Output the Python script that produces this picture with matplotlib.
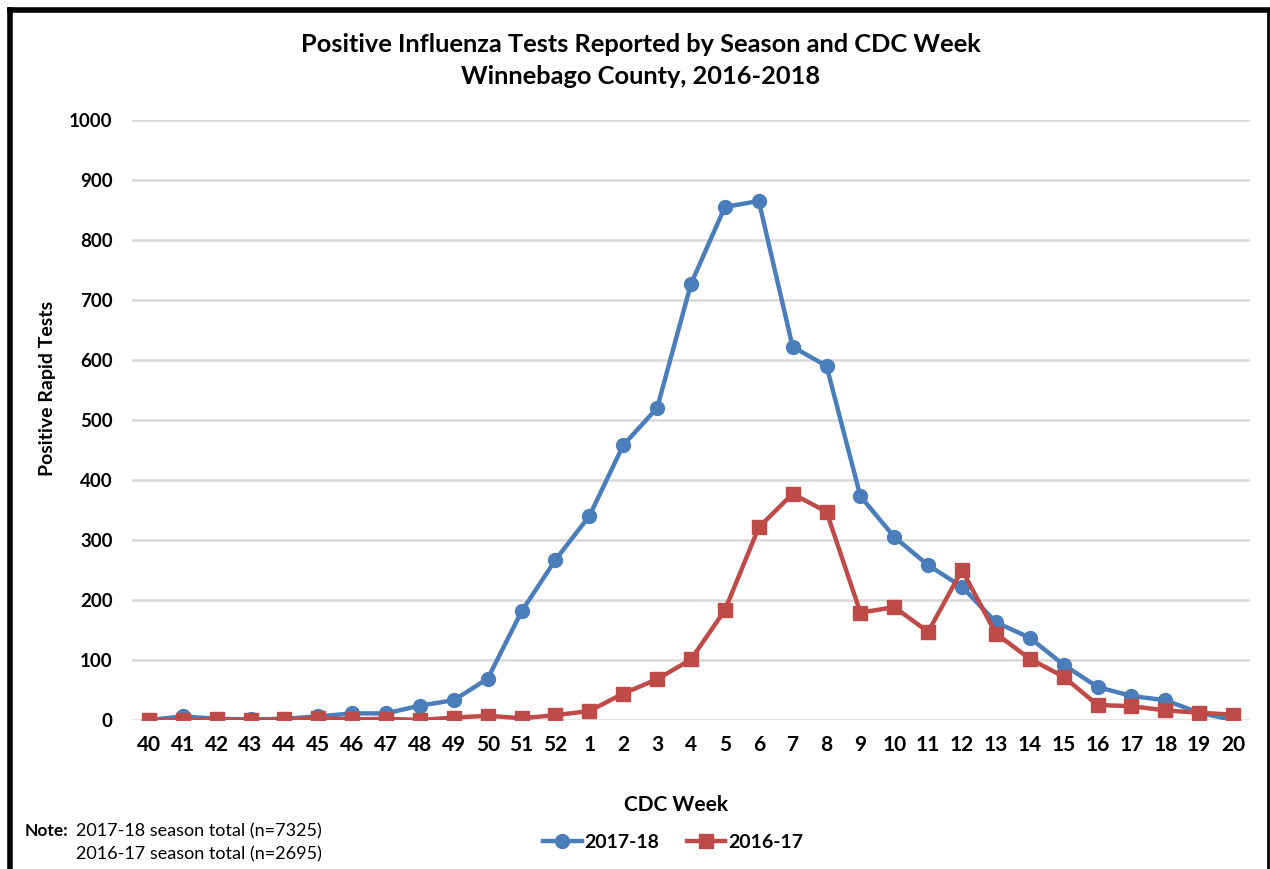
import matplotlib
matplotlib.use("Agg")
import matplotlib.pyplot as plt
from matplotlib.lines import Line2D

weeks = ["40", "41", "42", "43", "44", "45", "46", "47", "48", "49", "50", "51", "52",
         "1", "2", "3", "4", "5", "6", "7", "8", "9", "10", "11", "12", "13", "14",
         "15", "16", "17", "18", "19", "20"]
season_2017_18 = [0, 6, 2, 1, 2, 6, 11, 11, 24, 33, 69, 181, 267, 340, 458, 520, 727,
                  855, 865, 622, 590, 373, 305, 258, 222, 163, 137, 92, 55, 40, 33, 12, 0]
season_2016_17 = [0, 0, 1, 0, 1, 3, 1, 2, 0, 4, 7, 3, 8, 15, 44, 68, 101, 183, 321,
                  377, 347, 179, 188, 147, 250, 144, 102, 72, 25, 23, 16, 12, 9]
y_ticks = [0, 100, 200, 300, 400, 500, 600, 700, 800, 900, 1000]

plt.rcParams['font.family'] = ['Lato', 'DejaVu Sans']
blue = "#4A7EBB"
red = "#BE4B48"

fig = plt.figure(figsize=(12.7, 8.69), dpi=100)
ax = fig.add_axes([132/1270, 1-720/869, (1250-132)/1270, 600/869])

x = list(range(len(weeks)))
ax.plot(x, season_2017_18, color=blue, lw=3.2, marker='o', ms=10, label="2017-18", zorder=3)
ax.plot(x, season_2016_17, color=red, lw=3.2, marker='s', ms=10, label="2016-17", zorder=3)

ax.set_xlim(-0.5, len(weeks) - 0.5)
ax.set_ylim(0, 1000)
ax.set_yticks(y_ticks)
ax.set_xticks(x)
ax.set_xticklabels(weeks)
ax.tick_params(axis='both', length=0)
ax.tick_params(axis='x', labelsize=15, pad=11)
ax.tick_params(axis='y', labelsize=13.5, pad=14)
for t in ax.get_xticklabels() + ax.get_yticklabels():
    t.set_fontweight('bold')
ax.grid(axis='y', color='#D9D9D9', lw=1.8)
ax.set_axisbelow(True)
for s in ax.spines.values():
    s.set_visible(False)

fig.text(48/1270, 1-388/869, "Positive Rapid Tests", rotation=90, fontsize=14, fontweight='bold',
         ha='center', va='center')
fig.text(676/1270, 1-805/869, "CDC Week", fontsize=15, fontweight='bold', ha='center', va='center')
fig.text(641/1270, 1-45/869, "Positive Influenza Tests Reported by Season and CDC Week",
         fontsize=18.3, fontweight='bold', ha='center', va='center')
fig.text(641/1270, 1-77/869, "Winnebago County, 2016-2018",
         fontsize=18.3, fontweight='bold', ha='center', va='center')

handles = [Line2D([], [], color=blue, lw=3.2, marker='o', ms=10),
           Line2D([], [], color=red, lw=3.2, marker='s', ms=10)]
fig.legend(handles, ["2017-18", "2016-17"], loc='center', bbox_to_anchor=(673/1270, 1-842/869),
           ncol=2, frameon=False, prop={'weight': 'bold', 'size': 14}, handlelength=2.0,
           handletextpad=0.15, columnspacing=1.4)

fig.text(25/1270, 1-831/869, "Note:", fontsize=12.5, fontweight='bold', ha='left', va='center')
fig.text(76/1270, 1-831/869, "2017-18 season total (n=7325)", fontsize=13, ha='left', va='center')
fig.text(76/1270, 1-854/869, "2016-17 season total (n=2695)", fontsize=13, ha='left', va='center')

# frame
fig.add_artist(Line2D([10/1270, 1268/1270], [1-10/869, 1-10/869], color='black', lw=4,
                      transform=fig.transFigure))
fig.add_artist(Line2D([10/1270, 10/1270], [0, 1-10/869], color='black', lw=4,
                      transform=fig.transFigure))
fig.add_artist(Line2D([1268/1270, 1268/1270], [0, 1-10/869], color='black', lw=2,
                      transform=fig.transFigure))

fig.savefig("out.png", dpi=100)
